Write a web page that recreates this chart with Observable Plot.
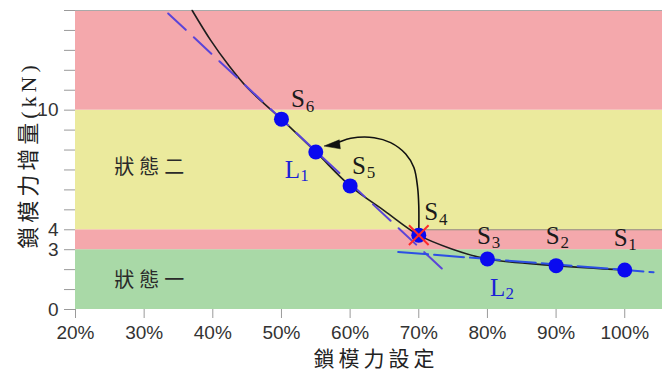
<!DOCTYPE html>
<html>
<head>
<meta charset="utf-8">
<script src="https://cdn.jsdelivr.net/npm/d3@7"></script>
<script src="https://cdn.jsdelivr.net/npm/@observablehq/plot@0.6"></script>
<style>
  html, body { margin: 0; padding: 0; background: #fff; }
  #chart svg { display: block; }
</style>
</head>
<body>
<div id="chart"></div>
<script>
// Clamping-force setting (%) and measured force increment (kN) at each test state
const settings   = [100, 90, 80, 70, 60, 55, 50];
const increments = [1.98, 2.2, 2.53, 3.73, 6.2, 7.9, 9.55];
const stateNames = ["S1", "S2", "S3", "S4", "S5", "", "S6"];

// Where each state name sits (data units)
const nameX = [99.4, 89.5, 79.5, 71.8, 61.3, null, 52.4];
const nameY = [3.6, 3.7, 3.7, 4.87, 7.2, null, 10.55];

// Fitted response curve
const curveSet = [37, 39.7, 42.2, 45.1, 50, 55, 60, 65, 70, 74.7, 80, 90, 100];
const curveInc = [15, 13.5, 12.3, 11.1, 9.55, 7.9, 6.2, 4.95, 3.73, 3.05, 2.53, 2.2, 1.98];

// Tangent lines L1 (steep) and L2 (flat)
const l1Set = [33.5, 74];
const l1Inc = [14.85, 1.85];
const l2Set = [67, 104.2];
const l2Inc = [2.89, 1.87];
const tangentNames = ["L1", "L2"];
const tangentX = [51.6, 81.5];
const tangentY = [7.0, 1.1];

// Return path from S4 back up the curve
const pathSet = [70, 70, 69.83, 69.29, 68.1, 65.9, 63.5, 60.1, 58.2, 57.4];
const pathInc = [3.73, 5.2, 6.12, 7.12, 7.8, 8.37, 8.62, 8.59, 8.37, 8.28];
const pathTip = {x: 56.2, y: 8.2};

// Zones
const zoneLo   = [0, 3, 4, 10];
const zoneHi   = [3, 4, 10, 15];
const zoneKind = ["ok", "warn", "mid", "warn"];
const zoneNames = ["狀態一", "狀態二"];
const zoneNameX = [31.1, 31.1];
const zoneNameY = [1.45, 7.1];

const xTicks = [20, 30, 40, 50, 60, 70, 80, 90, 100];
const yTicks = d3.range(0, 16);
const yLabeled = [0, 3, 4, 10];
const xTitle = "鎖模力設定";
const yTitle = "鎖模力增量(kN)";

const zoneFill = {ok: "#a9d9a7", warn: "#f4a8ac", mid: "#ebea9d"};

const points = settings.map((x, i) => ({x, y: increments[i], name: stateNames[i], lx: nameX[i], ly: nameY[i]}));
const named = points.filter(d => d.name);
const curve = curveSet.map((x, i) => ({x, y: curveInc[i]}));
const l1 = l1Set.map((x, i) => ({x, y: l1Inc[i]}));
const l2 = l2Set.map((x, i) => ({x, y: l2Inc[i]}));
const tangents = tangentNames.map((name, i) => ({name, x: tangentX[i], y: tangentY[i]}));
const path = pathSet.map((x, i) => ({x, y: pathInc[i]}));
const zones = zoneLo.map((lo, i) => ({lo, hi: zoneHi[i], kind: zoneKind[i]}));
const zoneLabels = zoneNames.map((t, i) => ({t, x: zoneNameX[i], y: zoneNameY[i]}));
const s4 = points.filter(d => d.name === "S4");
const edge = [{y: 4, x1: 70, x2: 105.5}];

// Filled arrowhead with its tip at the anchor, pointing left and slightly down
const arrowHead = {
  draw(ctx) {
    ctx.moveTo(0, 0);
    ctx.lineTo(16.3, 2.8);
    ctx.lineTo(15.3, -6.2);
    ctx.closePath();
  }
};

const serif = "'Liberation Serif', 'Times New Roman', serif";
const cjk = "'Liberation Serif', 'Noto Sans CJK TC', sans-serif";

const chart = Plot.plot({
  width: 662,
  height: 376,
  marginLeft: 75,
  marginRight: 0,
  marginTop: 10,
  marginBottom: 67,
  x: {domain: [20, 105.5]},
  y: {domain: [0, 15]},
  style: {fontFamily: "'Liberation Sans', Arial, sans-serif", background: "#fff"},
  marks: [
    Plot.rect(zones, {y1: "lo", y2: "hi", fill: d => zoneFill[d.kind]}),
    Plot.ruleY([15], {stroke: "#a9a9a9", strokeWidth: 1.2}),
    Plot.ruleY(edge, {y: "y", x1: "x1", x2: "x2", stroke: "#8f8f7a", strokeWidth: 1}),
    Plot.line(curve, {x: "x", y: "y", curve: "catmull-rom", stroke: "#1e1e1e", strokeWidth: 1.6}),
    Plot.line(l1, {x: "x", y: "y", stroke: "#5a44d8", strokeWidth: 2, strokeDasharray: "24,11"}),
    Plot.line(l2, {x: "x", y: "y", stroke: "#2c4fe4", strokeWidth: 2, strokeDasharray: "30,6"}),
    Plot.line(path, {x: "x", y: "y", curve: "catmull-rom", stroke: "#111", strokeWidth: 1.6}),
    Plot.dot([pathTip], {x: "x", y: "y", symbol: arrowHead, fill: "#111", stroke: "#111", strokeWidth: 0.5}),
    Plot.dot(points, {x: "x", y: "y", r: 7.5, fill: "#0a0af0"}),
    Plot.dot(s4, {x: "x", y: "y", symbol: "times", r: 9, stroke: "#ff2a2a", strokeWidth: 2}),
    // state names with subscript digits
    Plot.text(named, {x: "lx", y: "ly", text: d => d.name[0], fontSize: 25, fontFamily: serif, fill: "#1a1a1a"}),
    Plot.text(named, {x: "lx", y: "ly", text: d => d.name.slice(1), dx: 12, dy: 7, fontSize: 17, fontFamily: serif, fill: "#1a1a1a"}),
    Plot.text(tangents, {x: "x", y: "y", text: d => d.name[0], fontSize: 25, fontFamily: serif, fill: "#1b22d6"}),
    Plot.text(tangents, {x: "x", y: "y", text: d => d.name.slice(1), dx: 12, dy: 6, fontSize: 17, fontFamily: serif, fill: "#1b22d6"}),
    Plot.text(zoneLabels, {x: "x", y: "y", text: "t", fontSize: 20, fontFamily: cjk, fill: "#2a2a2a"}),
    Plot.axisX({ticks: xTicks, tickFormat: d => d + "%", tickSize: 9, tickPadding: 7, fontSize: 19, stroke: "#9a9a9a", fill: "#333", label: null}),
    Plot.axisY({ticks: yTicks, tickFormat: d => yLabeled.includes(d) ? d : "", tickSize: 11, tickPadding: 6, fontSize: 19, stroke: "#9a9a9a", fill: "#333", label: null}),
    Plot.text([xTitle], {frameAnchor: "bottom", dy: 50, dx: 7, fontSize: 21, fontFamily: cjk, fill: "#222", lineAnchor: "middle"}),
    Plot.text([yTitle], {frameAnchor: "left", textAnchor: "middle", dx: -47, dy: -5, rotate: -90, fontSize: 22, fontFamily: cjk, fill: "#222", lineAnchor: "middle"})
  ]
});

// widen the spacing of the Chinese captions
d3.select(chart).selectAll("text")
  .filter(function () { return /[\u4e00-\u9fff]/.test(this.textContent); })
  .attr("letter-spacing", function () { return this.textContent.length > 3 ? 4 : 5; });

document.getElementById("chart").appendChild(chart);
</script>
</body>
</html>
